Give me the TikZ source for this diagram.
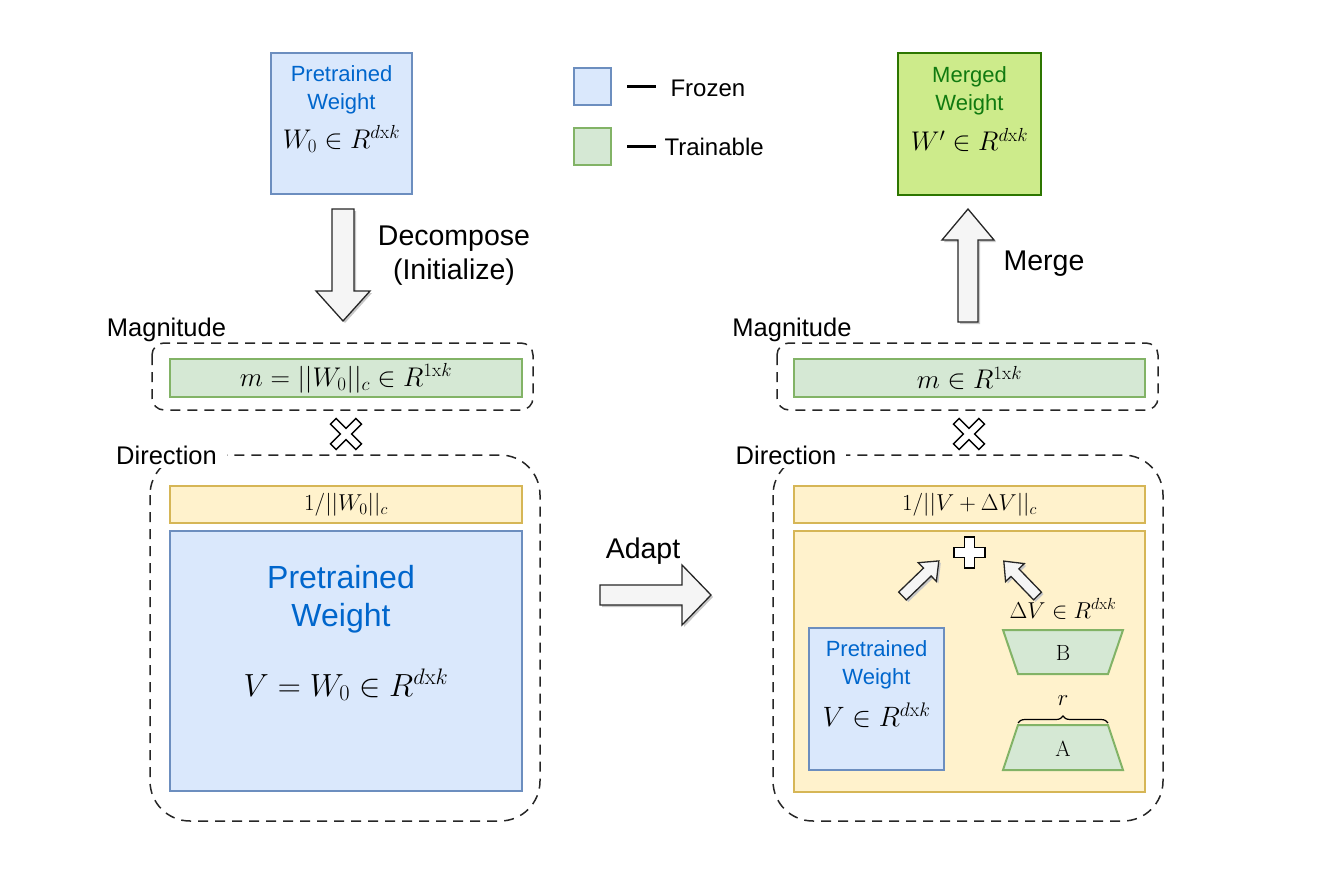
\RequirePackage{fix-cm}
\documentclass[tikz,border=0pt]{standalone}
\usepackage{fontspec}
\newfontfamily\sans{Liberation Sans}
\usetikzlibrary{decorations.pathreplacing}

\definecolor{frzfill}{HTML}{DAE8FC}
\definecolor{frzline}{HTML}{6C8EBF}
\definecolor{trnfill}{HTML}{D5E8D4}
\definecolor{trnline}{HTML}{82B366}
\definecolor{nrmfill}{HTML}{FFF2CC}
\definecolor{nrmline}{HTML}{D6B656}
\definecolor{mrgfill}{HTML}{CDEB8B}
\definecolor{mrgline}{HTML}{2D7600}
\definecolor{mrgtext}{HTML}{107A10}
\definecolor{ptext}{HTML}{0066CC}
\definecolor{arrfill}{HTML}{F5F5F5}

\newcommand{\blockarr}[6]{%
  \begin{scope}[shift={#1},xshift=2pt,yshift=-2pt,rotate=#2]
    \fill[black!22] (0,-#5)--({#3-#4},-#5)--({#3-#4},-#6)--(#3,0)--({#3-#4},#6)--({#3-#4},#5)--(0,#5)--cycle;
  \end{scope}
  \begin{scope}[shift={#1},rotate=#2]
    \draw[arrbody] (0,-#5)--({#3-#4},-#5)--({#3-#4},-#6)--(#3,0)--({#3-#4},#6)--({#3-#4},#5)--(0,#5)--cycle;
  \end{scope}}

\newcommand{\opmark}[4]{%
  \begin{scope}[shift={#1},rotate=#2]
    \draw[opbody] (-#4,-#3)--(#4,-#3)--(#4,-#4)--(#3,-#4)--(#3,#4)--(#4,#4)--(#4,#3)--(-#4,#3)--(-#4,#4)--(-#3,#4)--(-#3,-#4)--(-#4,-#4)--cycle;
  \end{scope}}

\begin{document}
\begin{tikzpicture}[
  x=1pt,y=-1pt,
  frozen/.style={draw=frzline,fill=frzfill,line width=2pt,inner sep=0pt},
  train/.style={draw=trnline,fill=trnfill,line width=2pt,inner sep=0pt},
  nrm/.style={draw=nrmline,fill=nrmfill,line width=2pt,inner sep=0pt},
  merged/.style={draw=mrgline,fill=mrgfill,line width=2pt,inner sep=0pt},
  grp/.style={draw=black!85,line width=1.5pt,dash pattern=on 10pt off 7pt},
  arrbody/.style={draw=black!85,fill=arrfill,line width=1.3pt,line join=miter},
  opbody/.style={draw=black,fill=white,line width=1.4pt,line join=miter},
  tagtxt/.style={font=\sans\fontsize{25.5}{30}\selectfont,inner sep=4pt},
  acttxt/.style={font=\sans\fontsize{28.5}{34}\selectfont,align=center},
  wlbl/.style={font=\sans\fontsize{22}{28}\selectfont,text=ptext,align=center},
  mth/.style={font=\fontsize{27}{32}\selectfont},
  smth/.style={font=\fontsize{23}{28}\selectfont},
  legdash/.style={line width=3pt}
]
\useasboundingbox (0,0) rectangle (1335,869);

% top row
\node[frozen,minimum width=141pt,minimum height=141pt] (pw) at (341.5,123.5) {};
\node[wlbl] (pwlbl) at (341.5,90) {Pretrained\\Weight};
\node[mth] (pwmath) at (341.5,139) {$W_0\in R^{d\mathrm{x}k}$};

\node[frozen,minimum width=37pt,minimum height=37pt] (lgfrz) at (592.5,86.5) {};
\node[train,minimum width=37pt,minimum height=37pt] (lgtrn) at (592.5,146.5) {};
\draw[legdash] ([xshift=15pt]lgfrz.east) -- ([xshift=44pt]lgfrz.east);
\draw[legdash] ([xshift=15pt]lgtrn.east) -- ([xshift=44pt]lgtrn.east);
\node[font=\sans\fontsize{24}{28}\selectfont,anchor=west] (lgfrzt) at (667,88) {Frozen};
\node[font=\sans\fontsize{24}{28}\selectfont,anchor=west] (lgtrnt) at (661,147) {Trainable};

\node[merged,minimum width=143pt,minimum height=142pt] (mw) at (969.5,124) {};
\node[wlbl,text=mrgtext] (mwlbl) at (969.5,91) {Merged\\Weight};
\node[mth] (mwmath) at (969.5,140) {$W'\in R^{d\mathrm{x}k}$};

% big arrows
\blockarr{(343,209)}{-90}{112}{30}{11}{27}
\node[acttxt] (decomp) at (454,256) {Decompose\\(Initialize)};
\blockarr{(968,322)}{90}{113}{31}{10}{26}
\node[acttxt] (merge) at (1044,264) {Merge};
\blockarr{(600,595)}{0}{111}{29}{10}{30}
\node[acttxt] (adapt) at (643,551) {Adapt};

% left column
\draw[grp,rounded corners=12pt] (152,343) rectangle (533,410);
\node[tagtxt] (lmag) at (166.5,330) {Magnitude};
\node[train,minimum width=352pt,minimum height=38pt] (lmbar) at (346,378) {};
\node[mth] (lmmath) at (346,378) {$m=||W_0||_c\in R^{1\mathrm{x}k}$};
\opmark{(346,434)}{45}{18}{4}

\draw[grp,rounded corners=40pt] (150,455) rectangle (540,821);
\node[tagtxt,fill=white,inner xsep=10pt] (ldir) at (166.5,455) {Direction};
\node[nrm,minimum width=352pt,minimum height=37pt] (lnorm) at (346,504.5) {};
\node[smth] (lnmath) at (346,505) {$1/||W_0||_c$};
\node[frozen,minimum width=352pt,minimum height=260pt] (lv) at (346,661) {};
\node[wlbl,font=\sans\fontsize{32}{38}\selectfont] (lvlbl) at (341,599) {Pretrained\\Weight};
\node[font=\fontsize{32}{38}\selectfont] (lvmath) at (346,685) {$V=W_0\in R^{d\mathrm{x}k}$};

% right column
\draw[grp,rounded corners=12pt] (777,343) rectangle (1158,410);
\node[tagtxt] (rmag) at (792,330) {Magnitude};
\node[train,minimum width=351pt,minimum height=38pt] (rmbar) at (969.5,378) {};
\node[mth] (rmmath) at (969.5,378) {$m\in R^{1\mathrm{x}k}$};
\opmark{(969,434)}{45}{18}{4}

\draw[grp,rounded corners=40pt] (773,455) rectangle (1163,821);
\node[tagtxt,fill=white,inner xsep=10pt] (rdir) at (786,455) {Direction};
\node[nrm,minimum width=351pt,minimum height=37pt] (rnorm) at (969.5,504.5) {};
\node[smth] (rnmath) at (969.5,505) {$1/||V+\Delta V||_c$};
\node[nrm,minimum width=351pt,minimum height=261pt] (rv) at (969.5,661.5) {};

\opmark{(969.5,552.5)}{0}{15.5}{5}
\blockarr{(902.5,596)}{44}{50.5}{16}{5.5}{13}
\blockarr{(1037.5,596)}{134}{48.5}{16}{5.5}{13}

\node[frozen,minimum width=135pt,minimum height=142pt] (rvw) at (876.5,699) {};
\node[wlbl] (rvlbl) at (876.5,665) {Pretrained\\Weight};
\node[mth,font=\fontsize{28}{32}\selectfont] (rvmath) at (876.5,715) {$V\in R^{d\mathrm{x}k}$};

\node[smth] (dvmath) at (1063,609) {$\Delta V\in R^{d\mathrm{x}k}$};
\draw[train] (1003,630) -- (1123,630) -- (1108,674) -- (1018,674) -- cycle;
\node[font=\fontsize{22}{26}\selectfont] (bmat) at (1063,653) {B};
\draw[train] (1018,725) -- (1108,725) -- (1123,770) -- (1003,770) -- cycle;
\node[font=\fontsize{22}{26}\selectfont] (amat) at (1063,749) {A};
\coordinate (abl) at (1018,723);
\coordinate (abr) at (1108,723);
\draw[decorate,decoration={brace,amplitude=7pt},line width=1.2pt] (abl) -- (abr);
\node[smth] (rank) at (1063,701) {$r$};
\end{tikzpicture}
\end{document}
